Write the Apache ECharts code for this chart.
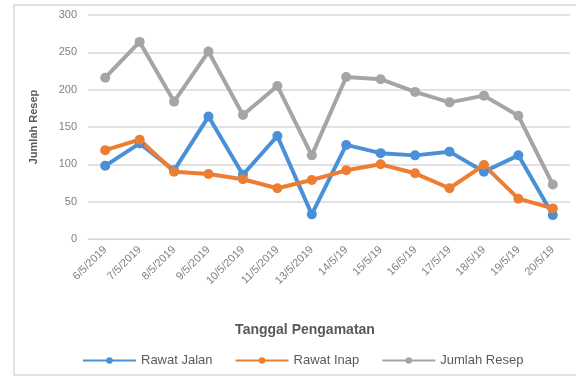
<!DOCTYPE html>
<html><head><meta charset="utf-8">
<script src="https://cdn.jsdelivr.net/npm/echarts@6/dist/echarts.min.js"></script>
<style>html,body{margin:0;padding:0;background:#fff}#c{width:576px;height:383px}</style>
</head><body><div id="c"></div>
<script>
const categories = ["6/5/2019","7/5/2019","8/5/2019","9/5/2019","10/5/2019","11/5/2019","13/5/2019","14/5/19","15/5/19","16/5/19","17/5/19","18/5/19","19/5/19","20/5/19"];
const rawatJalan = [98,128,92,164,86,138,33,126,115,112,117,90,112,32];
const rawatInap = [119,133,90,87,80,68,79,92,100,88,68,99,54,41];
const jumlahResep = [216,264,184,251,166,205,112,217,214,197,183,192,165,73];
const yTicks = {min:0, max:300, interval:50};
const xTitle = 'Tanggal Pengamatan';
const yTitle = 'Jumlah Resep';

const chart = echarts.init(document.getElementById('c'), null, {renderer:'canvas'});
function ser(name, data, color){
  return {name, type:'line', data, symbol:'circle', symbolSize:10,
    lineStyle:{width:4,color}, itemStyle:{color}, z: 2};
}
chart.setOption({
  animation:false,
  textStyle:{fontFamily:'Liberation Sans, Arial, sans-serif'},
  graphic:[
    {type:'rect', shape:{x:14,y:5,width:580,height:370},
      style:{fill:'none', stroke:'#d9d9d9', lineWidth:1.5}, z:-1},
    {type:'text', x:305, y:330, style:{text:xTitle, fill:'#595959',
      font:'bold 14px Liberation Sans, Arial, sans-serif', textAlign:'center', textVerticalAlign:'middle'}}
  ],
  grid:{left:88, right:6, top:15, bottom:144},
  xAxis:{type:'category', data:categories, boundaryGap:true,
    axisLine:{lineStyle:{color:'#d9d9d9'}}, axisTick:{show:false},
    axisLabel:{rotate:45, fontSize:11, color:'#808080', interval:0, margin:9}},
  yAxis:{type:'value', min:yTicks.min, max:yTicks.max, interval:yTicks.interval,
    name:yTitle, nameLocation:'middle', nameGap:49,
    nameTextStyle:{fontSize:11, fontWeight:'bold', color:'#595959'},
    axisLine:{show:false}, axisTick:{show:false},
    axisLabel:{fontSize:11, color:'#808080', margin:11},
    splitLine:{lineStyle:{color:'#d9d9d9', width:1.5}}},
  legend:{top:349, left:77, itemWidth:53, itemHeight:8, itemGap:22,
    textStyle:{fontSize:13, color:'#595959'},
    data:['Rawat Jalan','Rawat Inap','Jumlah Resep']},
  series:[
    ser('Rawat Jalan', rawatJalan, '#4a90d6'),
    ser('Rawat Inap', rawatInap, '#ed7d31'),
    ser('Jumlah Resep', jumlahResep, '#a5a5a5')
  ]
});
</script></body></html>
